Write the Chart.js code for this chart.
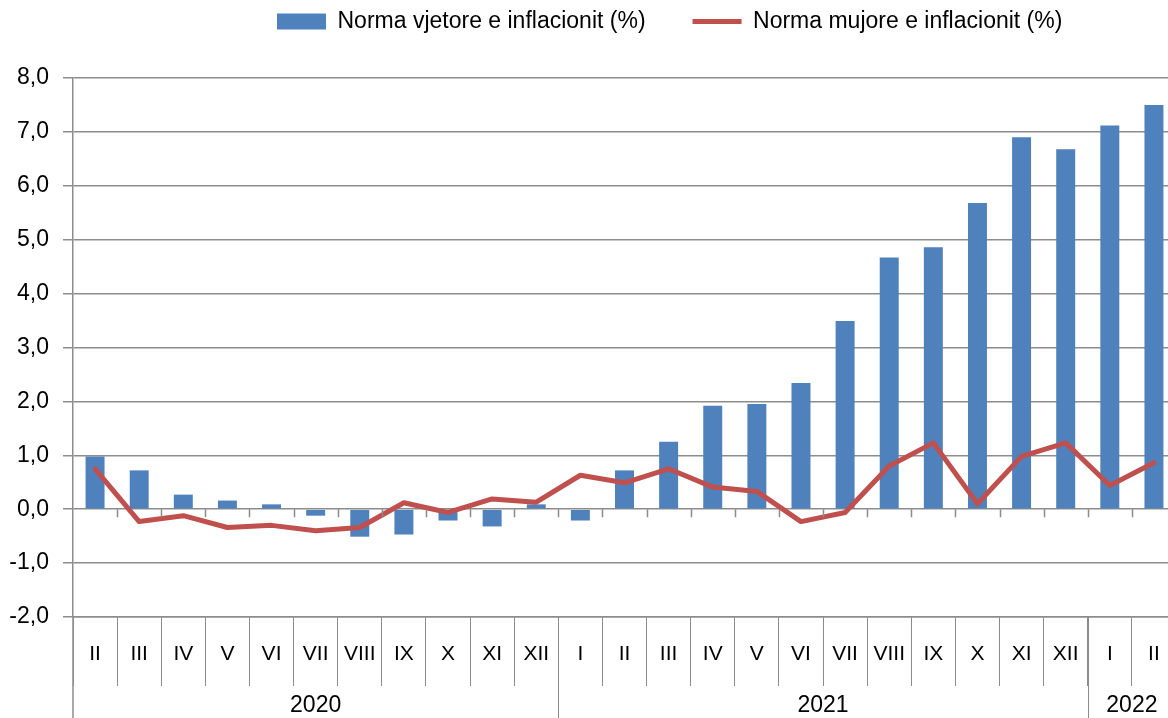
<!DOCTYPE html>
<html>
<head>
<meta charset="utf-8">
<script src="https://cdn.jsdelivr.net/npm/chart.js@4.4.1/dist/chart.umd.min.js"></script>
<style>
  html, body { margin: 0; padding: 0; overflow: hidden; background: #fff; }
  #wrap { width: 1176px; height: 718px; }
</style>
</head>
<body>
<div id="wrap"><canvas id="chart" width="1176" height="718"></canvas></div>
<script>
// months shown on the axis (Feb 2020 - Feb 2022)
const months = ['II', 'III', 'IV', 'V', 'VI', 'VII', 'VIII', 'IX', 'X', 'XI', 'XII',
  'I', 'II', 'III', 'IV', 'V', 'VI', 'VII', 'VIII', 'IX', 'X', 'XI', 'XII',
  'I', 'II'];
const yearLabels = ['2020', '2021', '2022'];
const yearSpans = [11, 12, 2];

const annualRate = [0.98, 0.72, 0.27, 0.16, 0.09, -0.12, -0.51, -0.47, -0.21, -0.32, 0.09,
  -0.21, 0.72, 1.25, 1.92, 1.95, 2.34, 3.49, 4.67, 4.86, 5.68, 6.90, 6.68,
  7.12, 7.50];
const monthlyRate = [0.75, -0.23, -0.12, -0.34, -0.30, -0.40, -0.34, 0.12, -0.06, 0.19, 0.13,
  0.63, 0.49, 0.75, 0.41, 0.33, -0.23, -0.06, 0.80, 1.23, 0.10, 0.98, 1.23,
  0.44, 0.86];

const seriesNames = ['Norma vjetore e inflacionit (%)', 'Norma mujore e inflacionit (%)'];

const gridColor = '#8c8c8c';
const fontFamily = '"Liberation Sans", Arial, sans-serif';

// legend sizing / position and the extra axis decorations (year row, zero ticks)
const axisExtras = {
  id: 'axisExtras',
  beforeLayout(chart) {
    const lg = chart.legend;
    if (lg && !lg._patched) {
      const fit = lg.fit;
      lg.fit = function () { fit.call(this); this.height = 78; };
      lg._patched = true;
    }
  },
  afterLayout(chart) {
    const lg = chart.legend;
    if (!lg) return;
    lg.left = 230;
    lg.right = chart.width;
    lg.top = -37;
  },
  afterDraw(chart) {
    const { ctx, chartArea } = chart;
    const x = chart.scales.x;
    const y = chart.scales.y;
    const H = chart.height;
    const half = (x.getPixelForValue(1) - x.getPixelForValue(0)) / 2;
    const edge = i => x.getPixelForValue(i) - half;

    ctx.save();
    ctx.strokeStyle = gridColor;

    // y axis line continues down through the category rows
    ctx.lineWidth = 1.5;
    ctx.beginPath();
    ctx.moveTo(chartArea.left, chartArea.bottom);
    ctx.lineTo(chartArea.left, H);
    ctx.stroke();

    // small tick marks below the zero line
    const y0 = y.getPixelForValue(0);
    ctx.lineWidth = 1.5;
    ctx.beginPath();
    for (let i = 1; i < months.length; i++) {
      const px = Math.round(edge(i)) + 0.5;
      ctx.moveTo(px, y0);
      ctx.lineTo(px, y0 + 8);
    }
    ctx.stroke();

    // year groups
    ctx.lineWidth = 1;
    ctx.fillStyle = '#000';
    ctx.font = '23px ' + fontFamily;
    ctx.textAlign = 'center';
    ctx.textBaseline = 'middle';
    let start = 0;
    yearLabels.forEach((lab, k) => {
      const end = start + yearSpans[k];
      const l = edge(start);
      const r = edge(end);
      if (k > 0) {
        const px = Math.round(l) + 0.5;
        ctx.beginPath();
        ctx.moveTo(px, chartArea.bottom);
        ctx.lineTo(px, H);
        ctx.stroke();
      }
      ctx.fillText(lab, (l + r) / 2, 706);
      start = end;
    });
    ctx.restore();
  }
};

const ctx = document.getElementById('chart').getContext('2d');
new Chart(ctx, {
  data: {
    labels: months,
    datasets: [
      {
        type: 'bar',
        label: seriesNames[0],
        data: annualRate,
        backgroundColor: '#4F81BD',
        borderWidth: 0,
        barPercentage: 0.43,
        categoryPercentage: 1,
        pointStyle: 'rect',
        order: 1,
      },
      {
        type: 'line',
        label: seriesNames[1],
        data: monthlyRate,
        borderColor: '#C0504D',
        backgroundColor: '#C0504D',
        borderWidth: 5,
        borderCapStyle: 'round',
        borderJoinStyle: 'round',
        pointRadius: 0,
        pointStyle: 'line',
        tension: 0,
        order: 0,
      },
    ],
  },
  options: {
    responsive: false,
    animation: false,
    layout: { padding: 0 },
    plugins: {
      tooltip: { enabled: false },
      legend: {
        position: 'top',
        align: 'start',
        labels: {
          usePointStyle: true,
          pointStyleWidth: 49,
          boxHeight: 16,
          padding: 47,
          color: '#000',
          font: { family: fontFamily, size: 23 },
          sort: (a, b) => a.datasetIndex - b.datasetIndex,
        },
      },
    },
    scales: {
      x: {
        offset: true,
        grid: {
          offset: true,
          drawOnChartArea: false,
          tickLength: 69,
          color: gridColor,
          lineWidth: 1,
        },
        border: { color: gridColor, width: 1.5 },
        ticks: {
          color: '#000',
          font: { family: fontFamily, size: 21 },
          padding: -44,
          maxRotation: 0,
          autoSkip: false,
        },
        afterFit: s => { s.height = 101; },
      },
      y: {
        min: -2,
        max: 8,
        grid: { color: gridColor, lineWidth: 1.5, tickLength: 10 },
        border: { color: gridColor, width: 1.5 },
        ticks: {
          stepSize: 1,
          color: '#000',
          padding: 14,
          font: { family: fontFamily, size: 23 },
          callback: v => v.toFixed(1).replace('.', ','),
        },
        afterFit: s => { s.width = 73; },
      },
    },
  },
  plugins: [axisExtras],
});
</script>
</body>
</html>
